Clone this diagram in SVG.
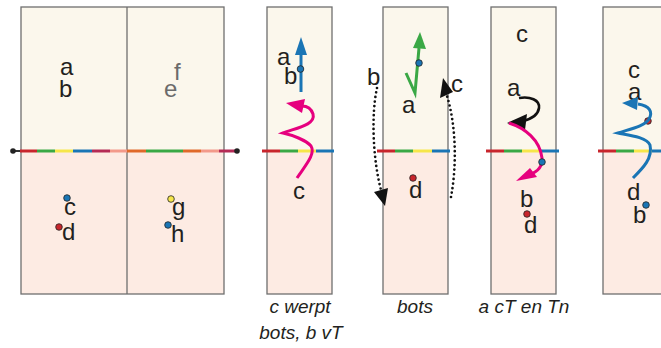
<svg xmlns="http://www.w3.org/2000/svg" width="661" height="348" viewBox="0 0 661 348">
<style>
.up{fill:#fbf7ec}
.lo{fill:#fdebe3}
.bd{fill:none;stroke:#6f6f6f;stroke-width:1.3}
.t{font-family:"Liberation Sans",Arial,sans-serif;font-size:24px;fill:#231f20}
.g{fill:#6b6b6b}
.cap{font-family:"Liberation Sans",Arial,sans-serif;font-size:19px;font-style:italic;fill:#231f20;text-anchor:middle}
.seg{stroke-width:3;fill:none}
.dot{stroke:#222;stroke-width:0.8}
.dotted{fill:none;stroke:#111;stroke-width:2.7;stroke-dasharray:0 4.6;stroke-linecap:round}
</style>
<rect width="661" height="348" fill="#fff"/>

<g id="panel1">
<rect class="up" x="21" y="7" width="203" height="144"/>
<rect class="lo" x="21" y="151" width="203" height="143"/>
<rect class="bd" x="21" y="7" width="203" height="287"/>
<line x1="127" y1="7" x2="127" y2="294" stroke="#6f6f6f" stroke-width="1.3"/>
<line x1="13" y1="151" x2="237" y2="151" stroke="#333" stroke-width="2"/>
<g class="seg">
<line x1="20" y1="151" x2="37" y2="151" stroke="#c8252c"/>
<line x1="37" y1="151" x2="55" y2="151" stroke="#3aa845"/>
<line x1="55" y1="151" x2="73" y2="151" stroke="#f6e64a"/>
<line x1="73" y1="151" x2="92" y2="151" stroke="#1a75b5"/>
<line x1="92" y1="151" x2="110" y2="151" stroke="#b52a55"/>
<line x1="110" y1="151" x2="127" y2="151" stroke="#f3998a"/>
<line x1="127" y1="151" x2="146" y2="151" stroke="#e0692a"/>
<line x1="146" y1="151" x2="164" y2="151" stroke="#3aa845"/>
<line x1="164" y1="151" x2="183" y2="151" stroke="#3aa845"/>
<line x1="183" y1="151" x2="201" y2="151" stroke="#e0692a"/>
<line x1="201" y1="151" x2="219" y2="151" stroke="#f3998a"/>
<line x1="219" y1="151" x2="235" y2="151" stroke="#b52a55"/>
</g>
<circle cx="13" cy="151" r="2.8" fill="#222"/>
<circle cx="237" cy="151" r="2.8" fill="#222"/>
<text class="t" x="60" y="75" font-size="26">a</text>
<text class="t" x="59" y="97" font-size="26">b</text>
<text class="t g" x="174" y="80" font-size="26">f</text>
<text class="t g" x="164" y="97" font-size="26">e</text>
<circle class="dot" cx="67" cy="198" r="3.3" fill="#1a75b5"/>
<text class="t" x="64" y="215">c</text>
<circle class="dot" cx="59" cy="227" r="3.3" fill="#c8252c"/>
<text class="t" x="62" y="240">d</text>
<circle class="dot" cx="171" cy="199" r="3.3" fill="#f6e64a"/>
<text class="t" x="172" y="215">g</text>
<circle class="dot" cx="168" cy="225" r="3.3" fill="#1a75b5"/>
<text class="t" x="171" y="242">h</text>
</g>

<g id="panel2">
<rect class="up" x="267" y="7" width="65" height="144"/>
<rect class="lo" x="267" y="151" width="65" height="143"/>
<rect class="bd" x="267" y="7" width="65" height="287"/>
<g class="seg">
<line x1="262" y1="151" x2="280" y2="151" stroke="#c8252c"/>
<line x1="280" y1="151" x2="298" y2="151" stroke="#3aa845"/>
<line x1="298" y1="151" x2="316" y2="151" stroke="#f6e64a"/>
<line x1="316" y1="151" x2="334" y2="151" stroke="#1a75b5"/>
</g>
<text class="t" x="277" y="65">a</text>
<text class="t" x="284" y="84">b</text>
<line x1="301" y1="92" x2="301" y2="52" stroke="#1a75b5" stroke-width="3"/>
<polygon points="301,37 307,55 295,55" fill="#1a75b5"/>
<circle class="dot" cx="300.5" cy="69" r="3.3" fill="#1a75b5"/>
<path d="M297,178 C305,166 316,154 311,146 C306,140 292,135 283,133 C296,128 316,125 313,114 C311,108 307,106 302,106" fill="none" stroke="#e6007e" stroke-width="3"/>
<polygon points="286,103 305,99 302,113" fill="#e6007e"/>
<text class="t" x="293" y="199">c</text>
</g>

<g id="panel3">
<rect class="up" x="383" y="7" width="65" height="144"/>
<rect class="lo" x="383" y="151" width="65" height="143"/>
<rect class="bd" x="383" y="7" width="65" height="287"/>
<g class="seg">
<line x1="377" y1="151" x2="395" y2="151" stroke="#c8252c"/>
<line x1="395" y1="151" x2="413" y2="151" stroke="#3aa845"/>
<line x1="413" y1="151" x2="432" y2="151" stroke="#f6e64a"/>
<line x1="432" y1="151" x2="450" y2="151" stroke="#1a75b5"/>
</g>
<polyline points="406,73 415,93 419,48" fill="none" stroke="#3aa845" stroke-width="3"/>
<polygon points="420,32 426,49 413,48" fill="#3aa845"/>
<circle class="dot" cx="419" cy="63" r="3.3" fill="#1a75b5"/>
<text class="t" x="402" y="113">a</text>
<text class="t" x="367" y="85">b</text>
<text class="t" x="451" y="92">c</text>
<circle class="dot" cx="413" cy="178" r="3.3" fill="#c8252c"/>
<text class="t" x="409" y="198">d</text>
</g>

<g id="connectors">
<path class="dotted" d="M377,88 C371,115 373,160 381,190"/>
<polygon points="385,206 374,192 388,188" fill="#111"/>
<path class="dotted" d="M451,197 C457,165 456,125 447,96"/>
<polygon points="443,78 440,98 453,92" fill="#111"/>
</g>

<g id="panel4">
<rect class="up" x="491" y="7" width="65" height="144"/>
<rect class="lo" x="491" y="151" width="65" height="143"/>
<rect class="bd" x="491" y="7" width="65" height="287"/>
<g class="seg">
<line x1="486" y1="151" x2="504" y2="151" stroke="#c8252c"/>
<line x1="504" y1="151" x2="522" y2="151" stroke="#3aa845"/>
<line x1="522" y1="151" x2="540" y2="151" stroke="#f6e64a"/>
<line x1="540" y1="151" x2="559" y2="151" stroke="#1a75b5"/>
</g>
<text class="t" x="516" y="42">c</text>
<text class="t" x="507" y="96">a</text>
<path d="M519,98 C530,96 540,100 539,108 C538,115 531,119 523,121" fill="none" stroke="#111" stroke-width="2.6"/>
<polygon points="507,123 527,114 525,130" fill="#111"/>
<path d="M509,123 C525,128 540,140 542,158 C543,167 537,172 529,175" fill="none" stroke="#e6007e" stroke-width="3"/>
<polygon points="516,181 530,168 537,177" fill="#e6007e"/>
<circle class="dot" cx="542" cy="162" r="3.3" fill="#1a75b5"/>
<text class="t" x="520" y="207">b</text>
<circle class="dot" cx="527" cy="214" r="3.3" fill="#c8252c"/>
<text class="t" x="524" y="233">d</text>
</g>

<g id="panel5">
<rect class="up" x="603" y="7" width="70" height="144"/>
<rect class="lo" x="603" y="151" width="70" height="143"/>
<rect class="bd" x="603" y="7" width="70" height="287"/>
<g class="seg">
<line x1="598" y1="151" x2="616" y2="151" stroke="#c8252c"/>
<line x1="616" y1="151" x2="634" y2="151" stroke="#3aa845"/>
<line x1="634" y1="151" x2="652" y2="151" stroke="#f6e64a"/>
<line x1="652" y1="151" x2="661" y2="151" stroke="#1a75b5"/>
</g>
<text class="t" x="628" y="78">c</text>
<text class="t" x="628" y="100">a</text>
<circle class="dot" cx="648" cy="121" r="3.3" fill="#c8252c"/>
<path d="M633,178 C643,168 653,158 650,145 C647,137 628,135 618,133 C630,129 645,126 649,119 C653,112 650,106 638,104" fill="none" stroke="#1a75b5" stroke-width="3"/>
<polygon points="622,103 638,97 637,110" fill="#1a75b5"/>
<text class="t" x="627" y="200">d</text>
<circle class="dot" cx="646" cy="205" r="3.3" fill="#1a75b5"/>
<text class="t" x="633" y="223">b</text>
</g>

<g id="captions">
<text class="cap" x="300" y="313">c werpt</text>
<text class="cap" x="301" y="339">bots, b vT</text>
<text class="cap" x="415" y="313">bots</text>
<text class="cap" x="524" y="313" font-size="18">a cT en Tn</text>
</g>
</svg>
